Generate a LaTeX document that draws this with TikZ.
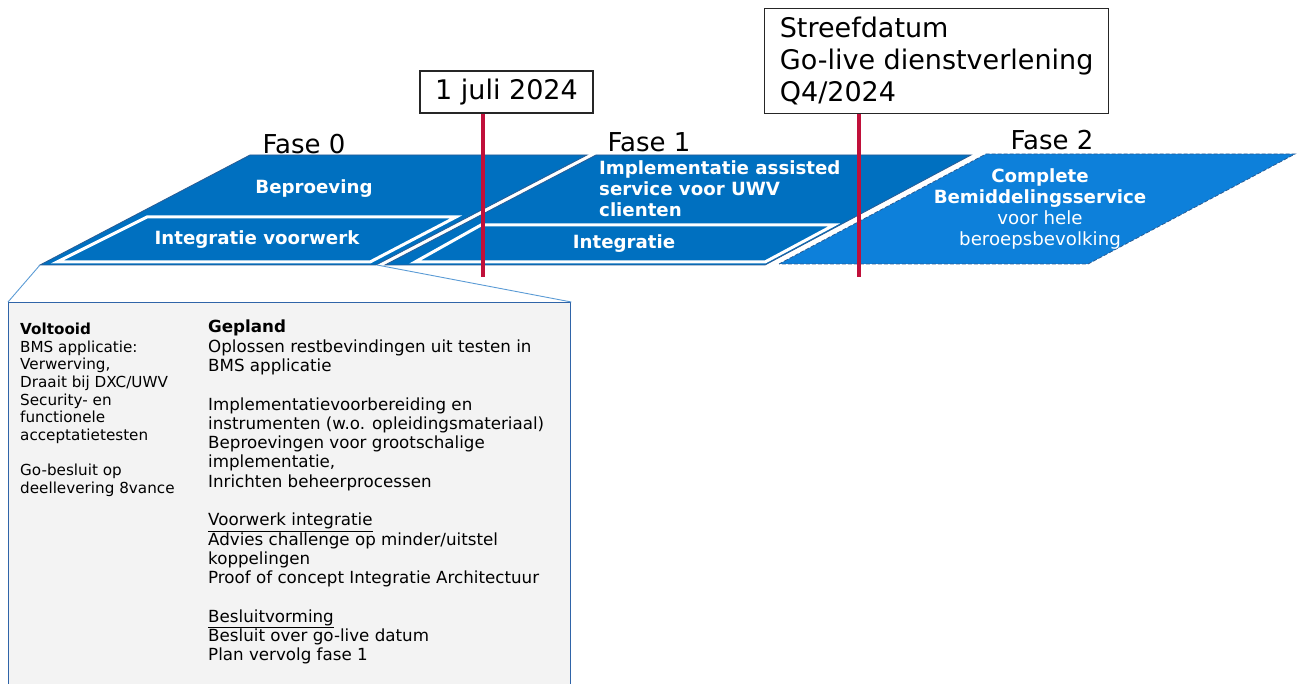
\documentclass[tikz,border=0pt]{standalone}
\usepackage{fontspec}
\setmainfont{DejaVu Sans}
\usepackage{xcolor}
\definecolor{faseBlue}{HTML}{0070C0}
\definecolor{faseLight}{HTML}{0D80DA}
\definecolor{faseEdge}{HTML}{2A5C94}
\definecolor{mijlRed}{HTML}{C0103A}
\definecolor{calloutBlue}{HTML}{5B9BD5}
\definecolor{boxFill}{HTML}{F3F3F3}
\definecolor{boxBorder}{HTML}{2F64A8}
\usetikzlibrary{positioning,calc}
\tikzset{
    fase/.style={
        fill=faseBlue,
        draw=faseEdge,
        line width=0.8pt
    },
    fasetwo/.style={
        fill=faseLight,
        draw=faseEdge,
        dash pattern=on 4pt off 2pt,
        line width=0.8pt
    },
    innerbox/.style={
        draw=white,
        line width=3pt,
        line join=miter
    },
    fasetitle/.style={
        font=\fontsize{26}{31}\selectfont,
        inner sep=0pt
    },
    fasetext/.style={
        text=white,
        font=\fontsize{18.2}{21}\selectfont\bfseries,
        inner sep=0pt
    },
    datebox/.style={
        draw=black!85,
        fill=white,
        line width=1.2pt,
        font=\fontsize{27}{32}\selectfont,
        align=left
    },
    milestone/.style={
        draw=mijlRed,
        line width=3.5pt
    },
    callout/.style={
        draw=calloutBlue,
        line width=0.9pt
    },
    detailbox/.style={
        draw=boxBorder,
        fill=boxFill,
        line width=1.4pt,
        rectangle
    },
    detailtext/.style={
        align=left,
        inner sep=0pt,
        anchor=north west
    }
}

\begin{document}
\begin{tikzpicture}[x=1pt, y=-1pt]
    \useasboundingbox (0,0) rectangle (1298,684);

    % Fasen
    \draw[fase] (40,265) -- (250,155) -- (587,155) -- (376,265) -- cycle;
    \draw[innerbox] (57,262) -- (147,217) -- (456,217) -- (370,262) -- cycle;
    \draw[fase] (385,265) -- (596,155) -- (971,155) -- (765,265) -- cycle;
    \draw[innerbox] (415,262) -- (481,225) -- (834,225) -- (765,262) -- cycle;
    \draw[fasetwo] (779,264) -- (986,154) -- (1295,154) -- (1088,264) -- cycle;

    % Fase titels
    \node[fasetitle] (fase0) at (304,144) {Fase 0};
    \node[fasetitle] (fase1) at (649,142) {Fase 1};
    \node[fasetitle] (fase2) at (1052,140) {Fase 2};

    % Teksten in de fasen
    \node[fasetext] (beproeving) at (314,189) {Beproeving};
    \node[fasetext] (voorwerk) at (257,240) {Integratie voorwerk};
    \node[fasetext, anchor=west, align=left] (assisted) at (599,189)
        {Implementatie assisted\\service voor UWV\\clienten};
    \node[fasetext] (integratie) at (624,244) {Integratie};
    \node[fasetext, align=center, font=\fontsize{18.2}{20.7}\selectfont] (complete) at (1040,209)
        {\textbf{Complete}\\\textbf{Bemiddelingsservice}\\voor hele\\beroepsbevolking};

    % Mijlpalen
    \node[datebox, minimum width=173pt, minimum height=42pt, inner xsep=12pt] (juli) at (506.5,92) {1 juli 2024};
    \node[datebox, anchor=north west, minimum width=344pt, minimum height=105pt, inner xsep=11pt] (streef) at (764,8)
        {Streefdatum\\Go-live dienstverlening\\Q4/2024};
    \coordinate (juliEnd) at (483,277);
    \coordinate (streefEnd) at (859,277);
    \draw[milestone] (juliEnd |- juli.south) -- (juliEnd);
    \draw[milestone] (streefEnd |- streef.south) -- (streefEnd);

    % Detail fase 0
    \node[detailbox, anchor=north west, minimum width=562pt, minimum height=400pt] (detail) at (8,302) {};
    \coordinate (fase0left) at (40,265);
    \coordinate (fase0right) at (377,265);
    \draw[callout] (fase0left) -- (detail.north west);
    \draw[callout] (fase0right) -- (detail.north east);

    \node[detailtext, font=\fontsize{15.2}{17.6}\selectfont] (voltooid) at (20,323)
        {\textbf{Voltooid}\\BMS applicatie:\\Verwerving,\\Draait bij DXC/UWV\\Security- en\\functionele\\acceptatietesten\\[17.6pt]
         Go-besluit op\\deellevering 8vance};
    \node[detailtext, font=\fontsize{16.7}{19.3}\selectfont] (gepland) at (208,320)
        {\textbf{Gepland}\\Oplossen restbevindingen uit testen in\\BMS applicatie\\[19.3pt]
         Implementatievoorbereiding en\\instrumenten (w.o. opleidingsmateriaal)\\Beproevingen voor grootschalige\\implementatie,\\Inrichten beheerprocessen\\[19.3pt]
         \underline{Voorwerk integratie}\\Advies challenge op minder/uitstel\\koppelingen\\Proof of concept Integratie Architectuur\\[19.3pt]
         \underline{Besluitvorming}\\Besluit over go-live datum\\Plan vervolg fase 1};
\end{tikzpicture}
\end{document}
